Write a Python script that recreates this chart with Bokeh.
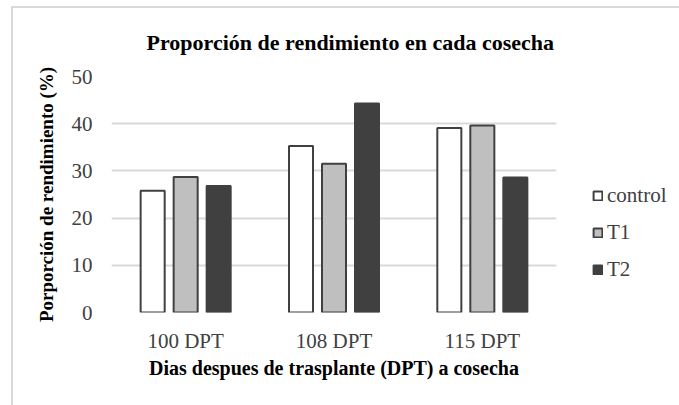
from bokeh.plotting import figure
from bokeh.models import ColumnDataSource, FactorRange, Range1d, Legend, LegendItem
from bokeh.transform import dodge
from bokeh.embed import file_html
from bokeh.resources import INLINE

# ---- data ----
categories = ["100 DPT", "108 DPT", "115 DPT"]
series_names = ["control", "T1", "T2"]
control = [25.8, 35.3, 39.1]
t1 = [28.7, 31.5, 39.6]
t2 = [26.8, 44.3, 28.6]
y_ticks = [0, 10, 20, 30, 40, 50]

title_text = "Proporción de rendimiento  en cada cosecha"
x_label = "Dias despues de trasplante (DPT) a cosecha"
y_label = "Porporción de rendimiento (%)"

src = ColumnDataSource(dict(cat=categories, control=control, T1=t1, T2=t2))

FONT = "Liberation Serif"

p = figure(
    x_range=FactorRange(*categories, range_padding=0),
    y_range=Range1d(0, 50),
    frame_width=445, frame_height=236,
    min_border_left=98, min_border_right=121,
    min_border_top=68, min_border_bottom=93,
    output_backend="svg", toolbar_location=None,
    title=title_text,
)
p.styles = {"border-left": "2px solid #d9d9d9", "border-top": "2px solid #d9d9d9",
            "margin-left": "11px", "margin-top": "6px"}
p.outline_line_color = None
p.background_fill_color = "white"
p.border_fill_color = "white"

p.title.text_font = FONT
p.title.text_font_size = "22px"
p.title.text_font_style = "bold"
p.title.text_color = "black"
p.title.align = "left"
p.title.offset = 35
p.title.standoff = 40
p.title.vertical_align = "top"

fills = ["white", "#bfbfbf", "#404040"]
offsets = [-0.2225, 0.0, 0.2225]
renderers = []
for name, fc, off in zip(series_names, fills, offsets):
    r = p.vbar(x=dodge("cat", off, range=p.x_range), top=name, width=0.162,
               source=src, fill_color=fc, line_color="#404040", line_width=2)
    renderers.append(r)

# axes
p.xaxis.axis_line_color = None
p.xaxis.major_tick_line_color = None
p.xaxis.major_tick_out = 0
p.xaxis.major_label_standoff = 16
p.xaxis.major_label_text_font = FONT
p.xaxis.major_label_text_font_size = "21px"
p.xaxis.major_label_text_color = "#404040"
p.xaxis.axis_label = x_label
p.xaxis.axis_label_text_font = FONT
p.xaxis.axis_label_text_font_size = "20px"
p.xaxis.axis_label_text_font_style = "bold"
p.xaxis.axis_label_text_color = "black"
p.xaxis.axis_label_standoff = 1

p.yaxis.ticker = y_ticks
p.yaxis.axis_line_color = None
p.yaxis.major_tick_line_color = None
p.yaxis.minor_tick_line_color = None
p.yaxis.major_tick_out = 0
p.yaxis.major_label_standoff = 19
p.yaxis.major_label_text_font = FONT
p.yaxis.major_label_text_font_size = "21px"
p.yaxis.major_label_text_color = "#404040"
p.yaxis.axis_label = y_label
p.yaxis.axis_label_text_font = FONT
p.yaxis.axis_label_text_font_size = "19px"
p.yaxis.axis_label_text_font_style = "bold"
p.yaxis.axis_label_text_color = "black"
p.yaxis.axis_label_standoff = 12

p.xgrid.grid_line_color = None
p.ygrid.grid_line_color = "#d9d9d9"
p.ygrid.grid_line_width = 2

legend = Legend(
    items=[LegendItem(label=n, renderers=[r]) for n, r in zip(series_names, renderers)],
    location=(36, 30),
    orientation="vertical",
    glyph_width=11, glyph_height=11,
    label_standoff=4,
    label_text_font=FONT, label_text_font_size="21px", label_text_color="#404040",
    label_height=24, spacing=12, padding=0, margin=0,
    border_line_color=None, background_fill_alpha=0,
)
p.add_layout(legend, "right")

open("out.html", "w").write(file_html(p, INLINE))
